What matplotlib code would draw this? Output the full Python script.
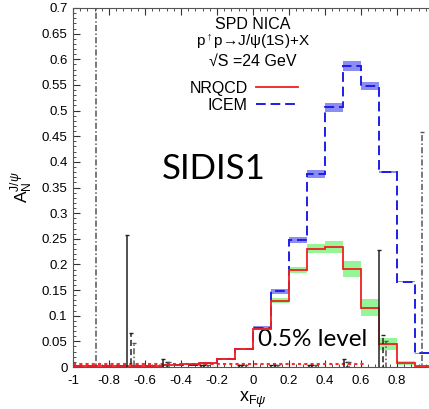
import numpy as np
import matplotlib
matplotlib.use("Agg")
import matplotlib.pyplot as plt
from matplotlib.ticker import MultipleLocator
from matplotlib.lines import Line2D

plt.rcParams['font.family'] = ['Liberation Sans', 'DejaVu Sans']
plt.rcParams['mathtext.fontset'] = 'custom'
plt.rcParams['mathtext.rm'] = 'Liberation Sans'
plt.rcParams['mathtext.it'] = 'Liberation Sans:italic'
plt.rcParams['mathtext.bf'] = 'Liberation Sans:bold'

# bin edges in x_F
edges = np.round(np.arange(-1.0, 1.0001, 0.1), 2)

# NRQCD (red) and its uncertainty band (green)
nrqcd = [0.001, 0.001, 0.001, 0.002, 0.002, 0.004, 0.005, 0.008, 0.016, 0.036,
         0.075, 0.129, 0.189, 0.231, 0.234, 0.191, 0.116, 0.045, 0.007, 0.001]
nrqcd_err = [0.0, 0.0, 0.0, 0.0, 0.0, 0.0, 0.0, 0.001, 0.001, 0.001,
             0.002, 0.005, 0.0065, 0.009, 0.012, 0.015, 0.016, 0.012, 0.004, 0.001]

# ICEM (blue dashed) and its uncertainty band
icem = [0.001, 0.001, 0.001, 0.001, 0.002, 0.003, 0.004, 0.007, 0.015, 0.035,
        0.077, 0.148, 0.248, 0.376, 0.506, 0.587, 0.548, 0.380, 0.166, 0.027]
icem_err = [0.0, 0.0, 0.0, 0.0, 0.0, 0.0, 0.0, 0.0, 0.001, 0.001,
            0.002, 0.005, 0.006, 0.008, 0.009, 0.0095, 0.0075, 0.002, 0.001, 0.001]

# projected statistical errors (three styles)
solid_x = [-0.70, 0.70, -0.50, 0.505, -0.29, -0.08, 0.10, 0.31]
solid_err = [0.257, 0.229, 0.015, 0.015, 0.003, 0.003, 0.003, 0.003]
dashed_x = [-0.68, 0.72, -0.48, 0.52, -0.27, -0.06, 0.12, 0.33]
dashed_err = [0.066, 0.062, 0.010, 0.010, 0.003, 0.003, 0.003, 0.003]
dashdot_x = [-0.87, -0.66, 0.74, 0.94, -0.465, 0.535, -0.25, -0.04, 0.14, 0.35]
dashdot_err = [0.75, 0.047, 0.051, 0.459, 0.010, 0.010, 0.003, 0.003, 0.003, 0.003]

level = 0.005
level_range = [-1.0, 0.63]

fig = plt.figure(figsize=(4.29, 4.09), dpi=100)
ax = fig.add_axes([73/429, 42/409, 360/429, 359/409])

lo = np.array(nrqcd) - np.array(nrqcd_err)
hi = np.array(nrqcd) + np.array(nrqcd_err)
ax.stairs(hi, edges, baseline=lo, fill=True, color='#96f596', lw=0, zorder=1)
lo = np.array(icem) - np.array(icem_err)
hi = np.array(icem) + np.array(icem_err)
ax.stairs(hi, edges, baseline=lo, fill=True, color='#8c8cf5', lw=0, zorder=1)

ax.stairs(icem, edges, color='#1e1ee6', lw=1.4, ls=(0, (5, 2.5)), zorder=3,
          baseline=None, label='ICEM')
ax.stairs(nrqcd, edges, color='#f02020', lw=1.3, zorder=4, baseline=None,
          label='NRQCD')

ax.plot(level_range, [level, level], color='#ff2a2a', lw=1.5, ls=(0, (1.5, 1.5)), zorder=2)

for xs, es, st, col in [(solid_x, solid_err, '-', '#222222'),
                        (dashed_x, dashed_err, (0, (4, 2)), '#222222'),
                        (dashdot_x, dashdot_err, (0, (4, 1.5, 1, 1.5)), '#555555')]:
    eb = ax.errorbar(xs, np.zeros(len(xs)), yerr=es, fmt='none', ecolor=col,
                     elinewidth=1.1, capsize=1.6, capthick=1.0, zorder=5)
    eb[2][0].set_linestyle(st)

ax.set_xlim(-1, 1)
ax.set_ylim(0, 0.7)
ax.xaxis.set_minor_locator(MultipleLocator(0.04))
ax.yaxis.set_minor_locator(MultipleLocator(0.01))
ax.set_xticks(np.round(np.arange(-1, 0.81, 0.2), 1))
ax.set_xticklabels(['-1', '-0.8', '-0.6', '-0.4', '-0.2', '0', '0.2', '0.4', '0.6', '0.8'])
yt = np.round(np.arange(0, 0.701, 0.05), 2)
ax.set_yticks(yt)
ax.set_yticklabels(['0'] + ['%g' % v for v in yt[1:]])
ax.tick_params(which='both', direction='in', top=True, right=False,
               labelsize=9.5, colors='#333333', labelcolor='black')
ax.tick_params(axis='x', pad=6)
ax.tick_params(axis='y', pad=4)
ax.tick_params(which='major', length=5, width=0.8)
ax.tick_params(which='minor', length=2.5, width=0.6)
for s in ax.spines.values():
    s.set_color('#555555')
    s.set_linewidth(0.8)

ax.set_xlabel(r'$\mathrm{x}_{\mathrm{F}\psi}$', fontsize=13, labelpad=2)
ax.set_ylabel(r'$\mathrm{A}_\mathrm{N}^{\mathrm{J}/\psi}$', fontsize=12.5, labelpad=5)

ax.text(0.0, 0.667, 'SPD NICA', ha='center', va='center', fontsize=11.5)
ax.text(0.0, 0.632, r'p$^{\uparrow}$p→J/ψ(1S)+X', ha='center', va='center', fontsize=11)
ax.text(0.0, 0.595, '√S =24 GeV', ha='center', va='center', fontsize=11.5)

handles = [Line2D([], [], color='#f02020', lw=1.3),
           Line2D([], [], color='#1e1ee6', lw=1.4, ls=(0, (5, 2.5)))]
ax.legend(handles, ['NRQCD', 'ICEM'], loc='center right',
          bbox_to_anchor=(0.25, 0.527), bbox_transform=ax.transData,
          frameon=False, markerfirst=False, fontsize=11.5, handlelength=2.6,
          handletextpad=0.55, labelspacing=0.1, borderpad=0, borderaxespad=0)

ax.text(-0.507, 0.386, 'SIDIS1', ha='left', va='center', fontsize=25, family='Lato')
ax.text(0.028, 0.053, '0.5% level', ha='left', va='center', fontsize=17.5, family='Lato')

fig.savefig('out.png', dpi=100)
